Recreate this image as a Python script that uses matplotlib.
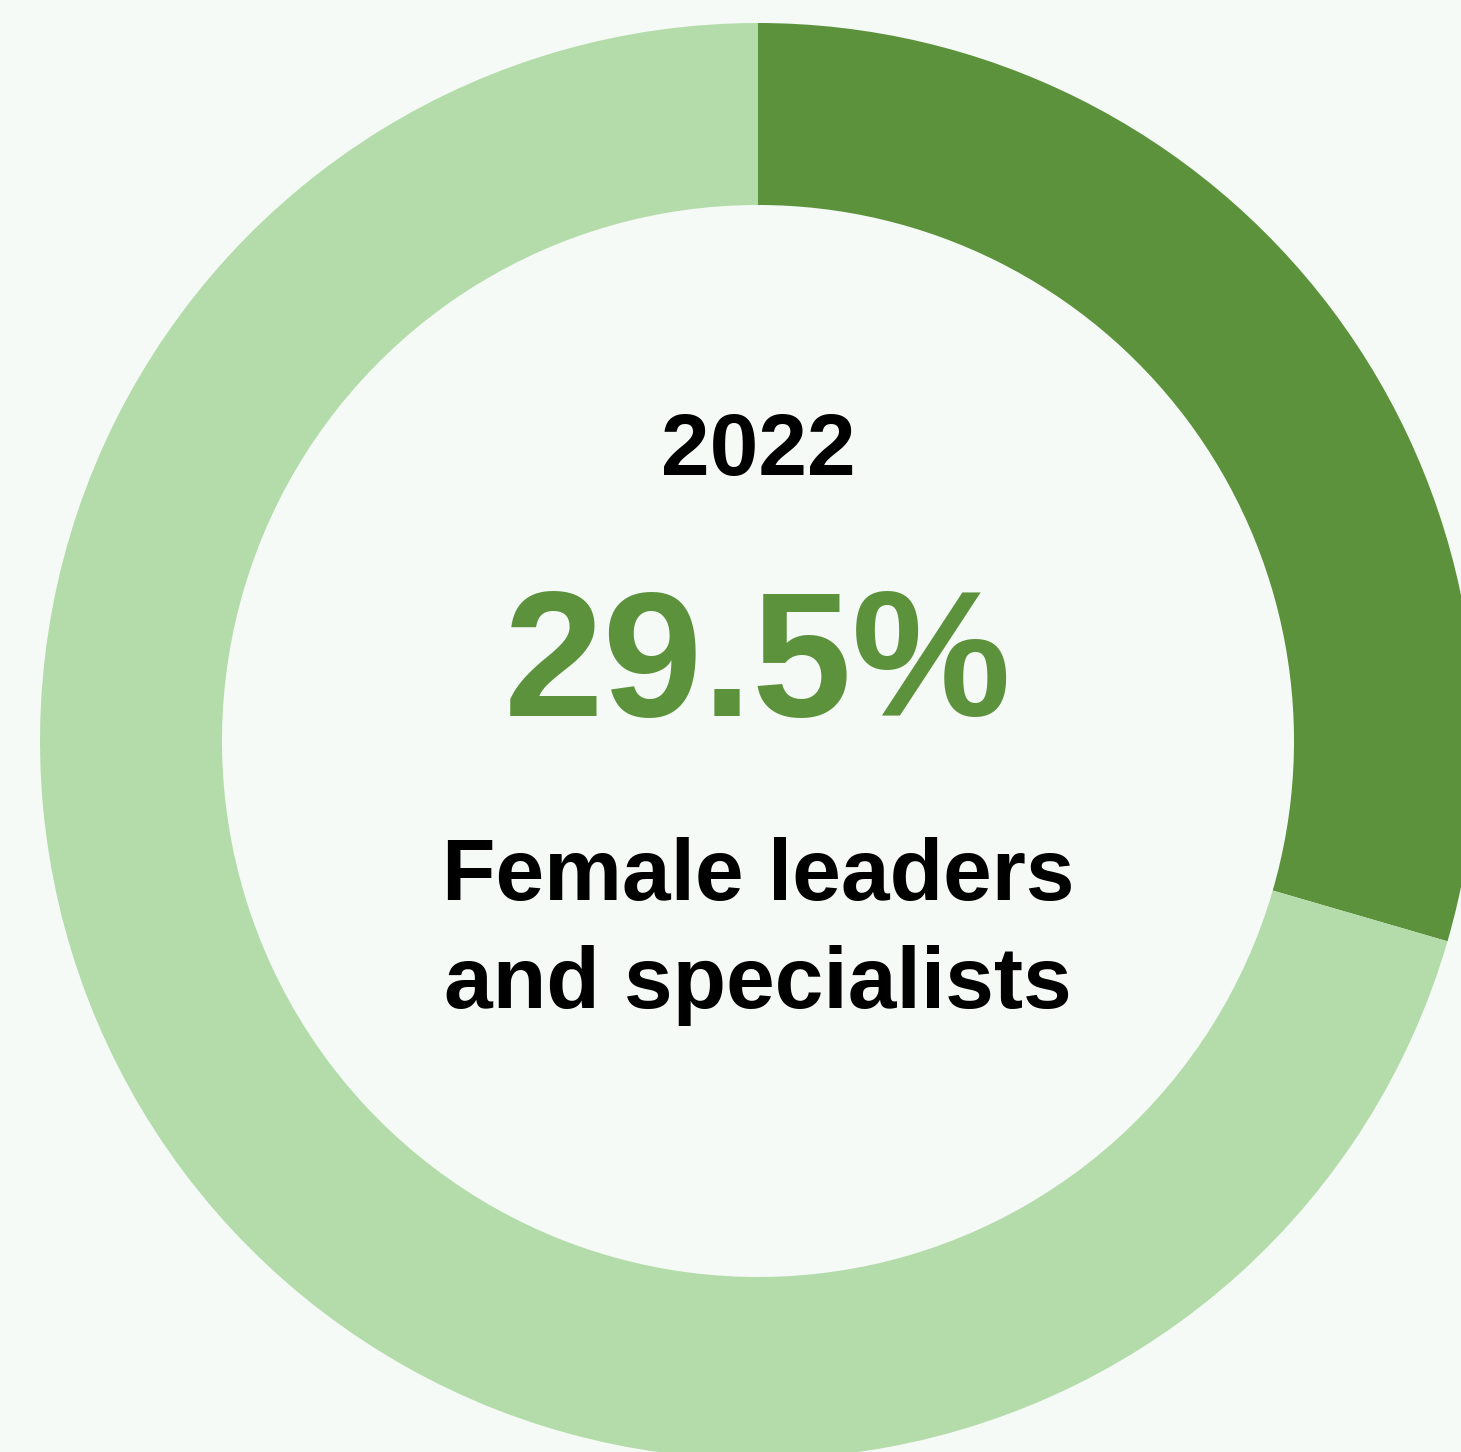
import matplotlib
matplotlib.use("Agg")
import matplotlib.pyplot as plt

# share of female leaders and specialists, 2022
year = "2022"
labels = ["Female", "Other"]
shares = [29.5, 70.5]
caption = ["Female leaders", "and specialists"]

dark = "#5d923c"
light = "#b4dcaa"
bg = "#f5faf6"

W, H = 1461, 1452
fig = plt.figure(figsize=(W / 100, H / 100), dpi=100, facecolor=bg)
ax = fig.add_axes([0, 0, 1, 1])
ax.set_facecolor(bg)

cx, cy = 758, H - 741
R, ring = 718, 182
ax.pie(shares, colors=[dark, light], startangle=90, counterclock=False,
       radius=R, center=(cx, cy), wedgeprops=dict(width=ring, linewidth=0))

ax.set_xlim(0, W)
ax.set_ylim(0, H)
ax.set_aspect("equal")
ax.axis("off")

font = "Liberation Sans"
ax.text(cx, H - 475, year, ha="center", va="baseline", fontsize=63,
        fontweight="bold", family=font, color="black")
ax.text(cx, H - 716, f"{shares[0]}%", ha="center", va="baseline", fontsize=129,
        fontweight="bold", family=font, color=dark)
ax.text(cx, H - 900, caption[0], ha="center", va="baseline", fontsize=63,
        fontweight="bold", family=font, color="black")
ax.text(cx, H - 1008, caption[1], ha="center", va="baseline", fontsize=63,
        fontweight="bold", family=font, color="black")

fig.savefig("out.png", dpi=100, facecolor=bg)
